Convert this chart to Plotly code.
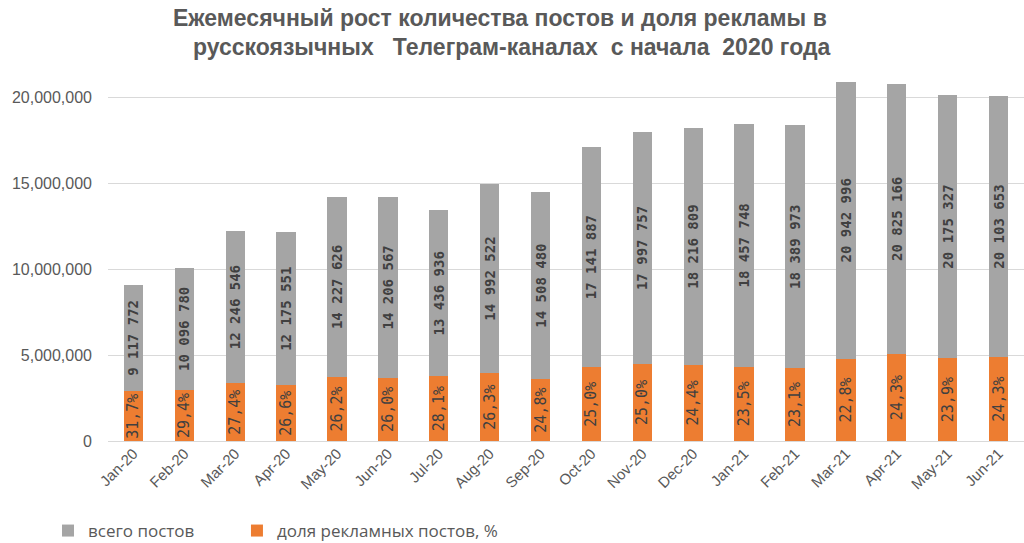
import plotly.graph_objects as go

months = ["Jan-20", "Feb-20", "Mar-20", "Apr-20", "May-20", "Jun-20", "Jul-20", "Aug-20", "Sep-20",
          "Oct-20", "Nov-20", "Dec-20", "Jan-21", "Feb-21", "Mar-21", "Apr-21", "May-21", "Jun-21"]
total_posts = [9117772, 10096780, 12246546, 12175551, 14227626, 14206567, 13436936, 14992522, 14508480,
               17141887, 17997757, 18216809, 18457748, 18389973, 20942996, 20825166, 20175327, 20103653]
ad_share_pct = [31.7, 29.4, 27.4, 26.6, 26.2, 26.0, 28.1, 26.3, 24.8,
                25.0, 25.0, 24.4, 23.5, 23.1, 22.8, 24.3, 23.9, 24.3]
title_lines = ["Ежемесячный рост количества постов и доля рекламы в",
               "русскоязычных   Телеграм-каналах  с начала  2020 года"]

ad_posts = [t * p / 100 for t, p in zip(total_posts, ad_share_pct)]
other_posts = [t - a for t, a in zip(total_posts, ad_posts)]
total_text = [f"{t:,}".replace(",", " ") for t in total_posts]
pct_text = [f"{p:.1f}%".replace(".", ",") for p in ad_share_pct]

LABEL_FONT = "DejaVu Sans Mono, Liberation Mono, monospace"
TEXT_FONT = "Liberation Sans, Arial, sans-serif"
LEGEND_FONT = dict(family="Open Sans, sans-serif", size=17, color="#595959")

fig = go.Figure()
fig.add_trace(go.Bar(
    x=months, y=ad_posts, name="доля рекламных постов, %", legend="legend2", showlegend=True,
    marker=dict(color="#ed7d31", line=dict(width=0)),
    text=pct_text, textposition="inside", insidetextanchor="middle", textangle=-90,
    constraintext="none",
    textfont=dict(family=LABEL_FONT, size=15, color="#404040"),
))
fig.add_trace(go.Bar(
    x=months, y=other_posts, name="всего постов", legend="legend", showlegend=True,
    marker=dict(color="#a5a5a5", line=dict(width=0)),
    text=total_text, textposition="inside", insidetextanchor="middle", textangle=-90,
    constraintext="none",
    textfont=dict(family=LABEL_FONT, size=14, color="#404040", weight="bold"),
))

fig.update_layout(
    barmode="stack",
    bargap=0.62,
    showlegend=True,
    width=1024, height=543,
    margin=dict(l=108, r=0, t=72, b=102, autoexpand=False),
    paper_bgcolor="white", plot_bgcolor="white",
    xaxis=dict(
        tickangle=-45, showgrid=False, showline=False, ticks="", automargin=False,
        tickfont=dict(family=TEXT_FONT, size=15, color="#595959"),
    ),
    yaxis=dict(
        range=[0, 21.5e6], dtick=5e6, tickformat=",d", automargin=False,
        showgrid=True, gridcolor="#d9d9d9", gridwidth=1,
        zeroline=True, zerolinecolor="#d9d9d9", zerolinewidth=1,
        showline=False, ticks="", ticklabelstandoff=15,
        tickfont=dict(family=TEXT_FONT, size=16, color="#595959"),
    ),
    legend=dict(
        visible=True, orientation="h", xref="container", yref="container",
        x=0.0469, xanchor="left", y=0.0221, yanchor="middle",
        font=LEGEND_FONT, bgcolor="rgba(0,0,0,0)",
    ),
    legend2=dict(
        visible=True, orientation="h", xref="container", yref="container",
        x=0.2314, xanchor="left", y=0.0221, yanchor="middle",
        font=LEGEND_FONT, bgcolor="rgba(0,0,0,0)",
    ),
    annotations=[
        dict(text=title_lines[0], x=0.428, y=1.1463, xref="paper", yref="paper",
             xanchor="center", yanchor="middle", showarrow=False,
             font=dict(family=TEXT_FONT, size=23, color="#595959", weight="bold")),
        dict(text=title_lines[1], x=0.441, y=1.0679, xref="paper", yref="paper",
             xanchor="center", yanchor="middle", showarrow=False,
             font=dict(family=TEXT_FONT, size=23, color="#595959", weight="bold")),
    ],
)

fig.write_html("out.html")
